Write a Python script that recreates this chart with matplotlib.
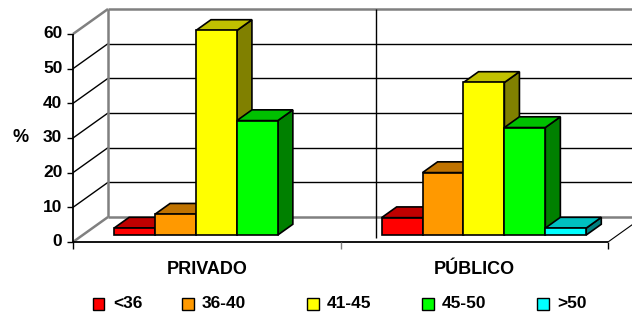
import matplotlib.pyplot as plt
from matplotlib.patches import Polygon, Rectangle

# data
categories = ['PRIVADO', 'PÚBLICO']
age_groups = ['<36', '36-40', '41-45', '45-50', '>50']
privado = [2, 6, 59, 33, 0]
publico = [5, 18, 44, 31, 2]
yticks = [0, 10, 20, 30, 40, 50, 60]

face_colors = ['#FF0000', '#FF9900', '#FFFF00', '#00FF00', '#00FFFF']
top_colors = ['#C00000', '#C07300', '#C0C000', '#00C000', '#00C0C0']
side_colors = ['#800000', '#804C00', '#808000', '#008000', '#008080']

plt.rcParams['font.family'] = ['Liberation Sans', 'DejaVu Sans']
plt.rcParams['font.weight'] = 'bold'
plt.rcParams['font.size'] = 13

W, H = 632, 320
fig = plt.figure(figsize=(W / 100, H / 100), dpi=100)
# front plane of the 3d box
ax = fig.add_axes([73 / W, 78 / H, 535 / W, 208 / H])
ax.set_xlim(0, 2)
ax.set_ylim(0, 60)
ax.axis('off')

# full depth offset in data units (35px right, 25px up)
DX = 35 / 535 * 2
DY = 25 / 208 * 60


def P(x, y, d):
    return (x + d * DX, y + d * DY)


def line(p, q, color='black', lw=1.0, z=1):
    ax.plot([p[0], q[0]], [p[1], q[1]], color=color, lw=lw, zorder=z,
            clip_on=False, solid_capstyle='butt')


grey = '#808080'

# walls and gridlines
for v in yticks:
    c = grey if v in (0, 60) else 'black'
    lw = 1.8 if v in (0, 60) else 1.0
    line(P(0, v, 0), P(0, v, 1), c, lw)
    line(P(0, v, 1), P(2.3, v, 1), c, lw)
line(P(0, 0, 1), P(0, 60, 1), grey, 1.8)
line(P(1, -6, 1), P(1, 60, 1), 'black', 1.0)
line(P(2, 0, 0), P(2, 0, 1), 'black', 0.8)

# front axes
line((0, 0), (0, 60), 'black', 1.3, 2)
line((0, 0), (2, 0), 'black', 1.3, 2)
for v in yticks:
    line((-0.024, v), (0, v), 'black', 1.0, 2)
    ax.text(-0.04, v, str(v), ha='right', va='center', fontsize=12.5)
for x in (0, 1, 2):
    line((x, 0), (x, -2.1), grey if x == 1 else 'black', 1.0, 2)
for i, name in enumerate(categories):
    ax.text(i + 0.5, -7.9, name, ha='center', va='center', fontsize=13)
ax.text(-0.195, 30, '%', ha='center', va='center', fontsize=13)

# 3d bars
w = 0.153
start = 0.117
d0, d1 = 0.28, 0.71
z = 5
for i, values in enumerate([privado, publico]):
    for j, v in enumerate(values):
        if v <= 0:
            continue
        x0 = i + start + j * w
        x1 = x0 + w
        faces = [
            ([P(x1, 0, d0), P(x1, 0, d1), P(x1, v, d1), P(x1, v, d0)], side_colors[j]),
            ([P(x0, v, d0), P(x1, v, d0), P(x1, v, d1), P(x0, v, d1)], top_colors[j]),
            ([P(x0, 0, d0), P(x1, 0, d0), P(x1, v, d0), P(x0, v, d0)], face_colors[j]),
        ]
        for pts, col in faces:
            ax.add_patch(Polygon(pts, closed=True, facecolor=col, edgecolor='black',
                                 lw=1.2, joinstyle='miter', zorder=z, clip_on=False))
        z += 1

# legend
leg_x = [93, 182, 307, 422, 537]
leg_y = 304
sq = 11.5
for x, lab, col in zip(leg_x, age_groups, face_colors):
    fig.add_artist(Rectangle((x / W, 1 - (leg_y + sq / 2) / H), sq / W, sq / H,
                             transform=fig.transFigure, facecolor=col,
                             edgecolor='black', lw=1.0))
    fig.text((x + 20) / W, 1 - leg_y / H, lab, ha='left', va='center', fontsize=12.5)

fig.savefig('out.png', dpi=100)
